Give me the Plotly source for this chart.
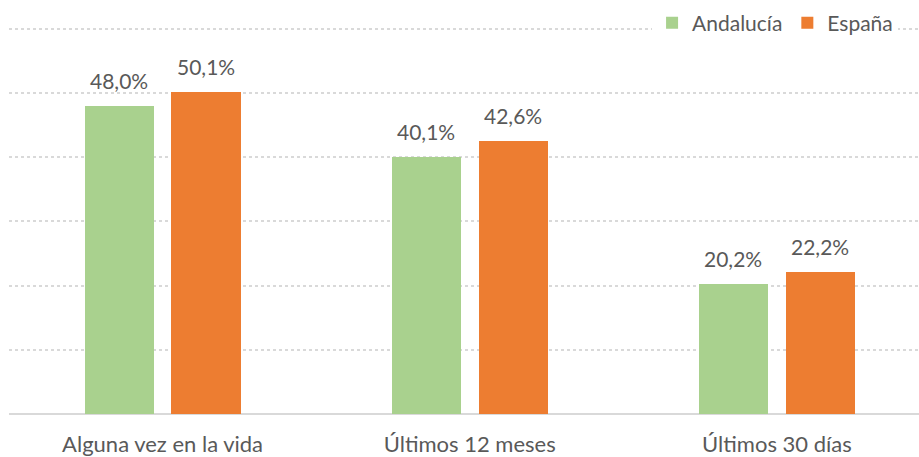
import plotly.graph_objects as go

categories = ["Alguna vez en la vida", "Últimos 12 meses", "Últimos 30 días"]
andalucia = [48.0, 40.1, 20.2]
espana = [50.1, 42.6, 22.2]
series_names = ["Andalucía", "España"]

GREEN = "#A9D18E"
ORANGE = "#ED7D31"
TEXT = "#595959"
GRID = "#D9D9D9"
FONT = "Lato, 'Open Sans', sans-serif"

bar_w = 0.225
half_gap = 0.029

def pct(v):
    return f"{v:.1f}%".replace(".", ",")

fig = go.Figure()
fig.add_trace(go.Bar(
    x=categories, y=andalucia, name=series_names[0],
    marker=dict(color=GREEN, line=dict(width=0)),
    width=bar_w, offset=-bar_w - half_gap,
))
fig.add_trace(go.Bar(
    x=categories, y=espana, name=series_names[1],
    marker=dict(color=ORANGE, line=dict(width=0)),
    width=bar_w, offset=half_gap,
))

# value labels above each bar
for i, cat in enumerate(categories):
    for vals, off in ((andalucia, -bar_w / 2 - half_gap), (espana, bar_w / 2 + half_gap)):
        fig.add_annotation(
            x=i + off, y=vals[i], xref="x", yref="y",
            text=pct(vals[i]), showarrow=False,
            yanchor="bottom", yshift=11,
            font=dict(family=FONT, size=21, color=TEXT),
        )

fig.update_layout(
    width=919, height=457,
    margin=dict(l=9, r=0, t=27, b=41),
    plot_bgcolor="white", paper_bgcolor="white",
    showlegend=True,
    legend=dict(
        orientation="h", x=0.977, xanchor="right", y=1.01, yanchor="middle",
        font=dict(family=FONT, size=21, color=TEXT),
        bgcolor="rgba(255,255,255,1)", itemwidth=30,
    ),
    bargap=0, bargroupgap=0,
)
fig.update_xaxes(
    type="category", range=[-0.5, 2.4625],
    showgrid=False, zeroline=False, showline=False, ticks="",
    tickfont=dict(family=FONT, size=22, color=TEXT),
    ticklabelstandoff=15,
)
fig.update_yaxes(
    range=[0, 60.3], dtick=10, showticklabels=False,
    showgrid=True, gridcolor=GRID, griddash="dot", gridwidth=1.5,
    zeroline=True, zerolinecolor=GRID, zerolinewidth=2,
)

fig.write_html("out.html")
